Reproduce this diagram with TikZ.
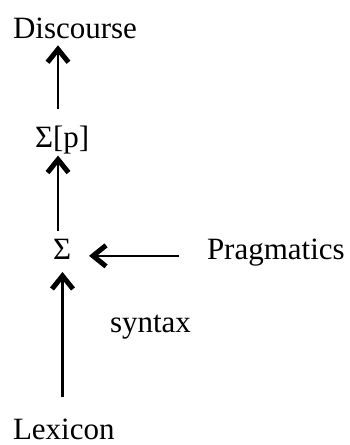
\documentclass[tikz,border=0pt]{standalone}
\usepackage{fontspec}
\setmainfont{Liberation Serif}
\usetikzlibrary{arrows.meta}

\begin{document}
\begin{tikzpicture}[x=1pt, y=-1pt,
			wort/.style={anchor=base west, inner sep=0pt, outer sep=0pt},
			pf/.style={-{Straight Barb[length=13pt, width=21pt, line width=5pt]}, line width=2.4pt},
			font=\fontsize{31}{36}\selectfont]
			%Bildbereich
			\useasboundingbox (0,0) rectangle (349,445);
			%Begriffe setzen
			\node[wort] (disc) at (13,38) {Discourse};
			\node[wort] (sigp) at (35,147) {Σ[p]};
			\node[wort] (sig)  at (53,259) {Σ};
			\node[wort] (prag) at (207,259) {Pragmatics};
			\node[wort] (syn)  at (110,332) {syntax};
			\node[wort] (lex)  at (13,439) {Lexicon};
			% Achsen der Pfeile
			\coordinate (achse) at (58,0);
			\coordinate (achse2) at (62.5,0);
			%Pfeile zeichnen
			\draw[pf, shorten <=16pt, shorten >=7pt] (sigp.north -| achse) -- (disc.south -| achse);
			\draw[pf, shorten <=8pt, shorten >=2pt] (sig.north -| achse) -- (sigp.south -| achse);
			\draw[pf, shorten <=28pt, shorten >=18pt] ([yshift=-7pt]sig.east -| prag.west) -- ([yshift=-7pt]sig.east);
			\draw[pf, shorten <=21pt, shorten >=13pt] (lex.north -| achse2) -- (sig.south -| achse2);
		\end{tikzpicture}
\end{document}
